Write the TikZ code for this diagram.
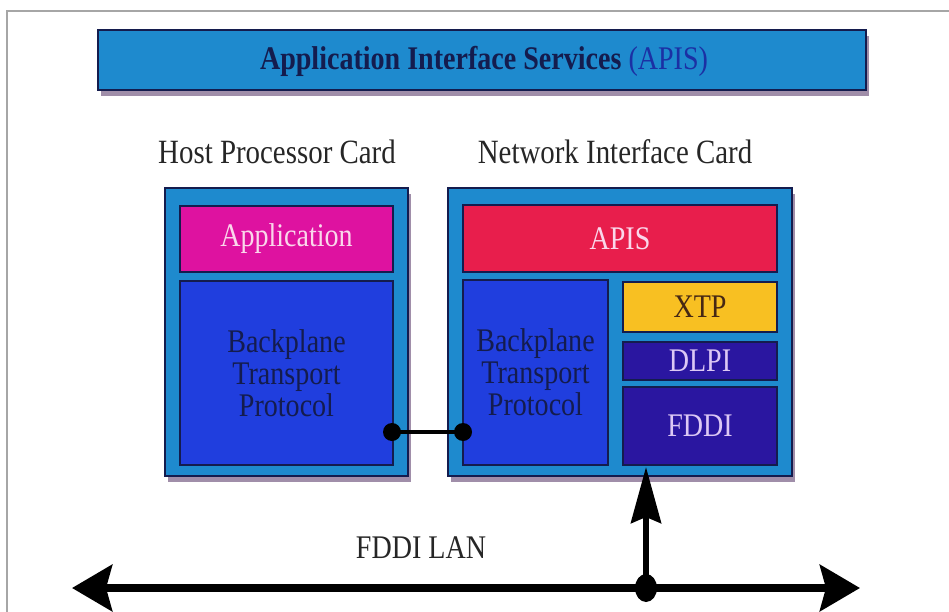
\documentclass[tikz,border=0pt]{standalone}
\usepackage{fontspec}
\setmainfont{Liberation Serif}
\usetikzlibrary{arrows.meta,shadows}
\definecolor{cyanb}{RGB}{30,138,206}
\definecolor{navyb}{RGB}{20,28,78}
\definecolor{magb}{RGB}{222,18,160}
\definecolor{royb}{RGB}{32,62,222}
\definecolor{redb}{RGB}{232,30,76}
\definecolor{yelb}{RGB}{248,192,34}
\definecolor{indb}{RGB}{42,22,160}
\definecolor{shadc}{RGB}{150,130,160}
\definecolor{lavt}{RGB}{220,200,245}
\definecolor{pinkt}{RGB}{250,215,235}
\definecolor{brownt}{RGB}{70,40,20}
\newcommand{\sq}[1]{\scalebox{0.85}[1]{#1}}
\begin{document}
\begin{tikzpicture}[x=1pt,y=-1pt,
  box/.style={draw=navyb, line width=1.5pt, inner sep=0pt, outer sep=0pt},
  shad/.style={drop shadow={shadow xshift=3pt, shadow yshift=-6pt, fill=shadc, opacity=0.9}},
  lbl/.style={font=\fontsize{34}{34}\selectfont, text=black!85},
  inl/.style={font=\fontsize{33}{33}\selectfont, align=center}]
\useasboundingbox (0,0) rectangle (949,612);
\draw[gray!70, line width=1.6pt] (7,612) -- (7,11) -- (949,11);

% banner
\node (banner) [box, shad, fill=cyanb, minimum width=768pt, minimum height=60pt] at (482,60) {};
\node (bannert) at (484,61) [font=\fontsize{33}{33}\selectfont, text=navyb]
  {\sq{\textbf{Application Interface Services} {\color{royb!60!navyb}(APIS)}}};

% headings
\node (hh) [lbl] at (277,152) {\sq{Host Processor Card}};
\node (nh) [lbl] at (615,152) {\sq{Network Interface Card}};

% host card
\node (host) [box, shad, fill=cyanb, minimum width=243pt, minimum height=288pt] at (286.5,332) {};
\node (app) [box, fill=magb, minimum width=213pt, minimum height=66pt, text=pinkt, inl] at (286.5,239) {\sq{Application}};
\node (bp1) [box, fill=royb, minimum width=213pt, minimum height=184pt, text=navyb, inl] at (286.5,373)
  {\sq{Backplane}\\[-1pt]\sq{Transport}\\[-1pt]\sq{Protocol}};

% network interface card
\node (nic) [box, shad, fill=cyanb, minimum width=344pt, minimum height=288pt] at (620,332) {};
\node (apis) [box, fill=redb, minimum width=314pt, minimum height=67pt, text=pinkt, inl] at (620,238.5) {\sq{APIS}};
\node (bp2) [box, fill=royb, minimum width=145pt, minimum height=185pt, text=navyb, inl] at (535.5,372.5)
  {\sq{Backplane}\\[-1pt]\sq{Transport}\\[-1pt]\sq{Protocol}};
\node (xtp) [box, fill=yelb, minimum width=154pt, minimum height=50pt, text=brownt, inl] at (700,307) {\sq{XTP}};
\node (dlpi) [box, fill=indb, minimum width=154pt, minimum height=38pt, text=lavt, inl] at (700,361) {\sq{DLPI}};
\node (fddi) [box, fill=indb, minimum width=154pt, minimum height=78pt, text=lavt, inl] at (700,426) {\sq{FDDI}};

% backplane connector
\coordinate (c1) at (392,432);
\coordinate (c2) at (463,432);
\draw[line width=4.5pt] (c1) -- (c2);
\fill (c1) circle (9pt);
\fill (c2) circle (9pt);

% LAN
\coordinate (L) at (72,588);
\coordinate (R) at (860,588);
\coordinate (J) at (646,588);
\coordinate (T) at (646,467);
\draw[line width=8pt, {Stealth[length=40pt,width=46pt,inset=6pt]}-{Stealth[length=40pt,width=46pt,inset=6pt]}] (L) -- (R);
\draw[line width=6pt, -{Stealth[length=56pt,width=30pt,inset=6pt]}] (J) -- (T);
\fill (J) ellipse (11pt and 14pt);
\node (lan) [font=\fontsize{33}{33}\selectfont, text=black!85] at (421,548) {\sq{FDDI LAN}};
\end{tikzpicture}
\end{document}
